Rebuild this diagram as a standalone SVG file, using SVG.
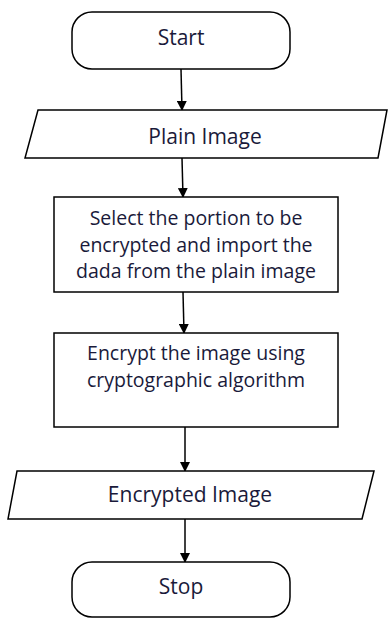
<svg xmlns="http://www.w3.org/2000/svg" width="388" height="619" viewBox="0 0 388 619">
<defs>
<marker id="ah" markerWidth="10" markerHeight="10" refX="9" refY="5" orient="auto" markerUnits="userSpaceOnUse">
<path d="M0,0 L10,5 L0,10 Z" fill="#000"/>
</marker>
<style>
.s{fill:#fff;stroke:#000;stroke-width:1.5}
.t{font-family:"Open Sans","Liberation Sans",sans-serif;font-size:21px;fill:#1a1a3a;text-anchor:middle}
.b{font-size:19.5px}
.c{stroke:#000;stroke-width:1.5;fill:none;marker-end:url(#ah)}
</style>
</defs>
<g id="connectors">
<line class="c" x1="181" y1="69" x2="182" y2="110"/>
<line class="c" x1="182" y1="158" x2="183" y2="197"/>
<line class="c" x1="183" y1="292" x2="184" y2="333"/>
<line class="c" x1="185" y1="427" x2="185" y2="471"/>
<line class="c" x1="185" y1="519" x2="185" y2="562"/>
</g>
<g id="start">
<rect class="s" x="72" y="12" width="218" height="57" rx="20"/>
<text class="t" x="181" y="45">Start</text>
</g>
<g id="plain">
<polygon class="s" points="38,110 387,110 378,158 25,158"/>
<text class="t" x="205" y="144">Plain Image</text>
</g>
<g id="select">
<rect class="s" x="54" y="197" width="284" height="95"/>
<text class="t b" x="196" y="225">Select the portion to be</text>
<text class="t b" x="196" y="252">encrypted and import the</text>
<text class="t b" x="196" y="278">dada from the plain image</text>
</g>
<g id="encrypt">
<rect class="s" x="54" y="333" width="284" height="94"/>
<text class="t b" x="196" y="360">Encrypt the image using</text>
<text class="t b" x="196" y="387">cryptographic algorithm</text>
</g>
<g id="encrypted">
<polygon class="s" points="17,471 374,471 362,519 8,519"/>
<text class="t" x="190" y="502">Encrypted Image</text>
</g>
<g id="stop">
<rect class="s" x="72" y="562" width="218" height="55" rx="20"/>
<text class="t" x="181" y="594">Stop</text>
</g>
</svg>
